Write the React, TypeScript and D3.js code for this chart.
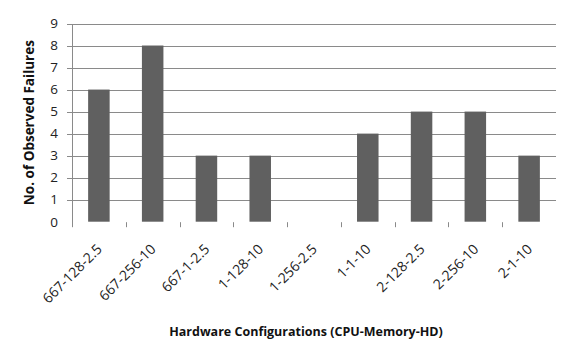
import React from "react";
import * as d3 from "d3";

const categories = ["667-128-2.5", "667-256-10", "667-1-2.5", "1-128-10", "1-256-2.5", "1-1-10", "2-128-2.5", "2-256-10", "2-1-10"];
const failures = [6, 8, 3, 3, 0, 4, 5, 5, 3];
const yTicks = [0, 1, 2, 3, 4, 5, 6, 7, 8, 9];
const yTitle = "No. of Observed Failures";
const xTitle = "Hardware Configurations (CPU-Memory-HD)";

const W = 576, H = 350;
const left = 72, right = 556, top = 23.5, bottom = 221.7;
const font = "'Open Sans', 'DejaVu Sans', sans-serif";

export default function App() {
  const x = d3.scaleBand<string>().domain(categories).range([left, right]).padding(0);
  const y = d3.scaleLinear().domain([0, 9]).range([bottom, top]);
  const bw = x.bandwidth() * 0.4;
  const grid = "#8a8a8a";
  return (
    <svg width={W} height={H} style={{ position: "absolute", left: 0, top: 0, background: "#fff" }}>
      <rect width={W} height={H} fill="#fff" />
      {yTicks.filter(t => t > 0).map(t => (
        <line key={"g" + t} x1={left - 5} x2={right} y1={Math.round(y(t)) + 0.5} y2={Math.round(y(t)) + 0.5} stroke={grid} strokeWidth={1} />
      ))}
      <line x1={left + 0.5} x2={left + 0.5} y1={Math.round(y(9))} y2={bottom + 5.5} stroke={grid} strokeWidth={1} />
      {categories.slice(1).map(c => (
        <line key={"t" + c} x1={Math.round(x(c)!) + 0.5} x2={Math.round(x(c)!) + 0.5} y1={bottom + 0.5} y2={bottom + 5.5} stroke={grid} strokeWidth={1} />
      ))}
      {categories.map((c, i) => (
        failures[i] > 0 ? (
          <rect key={"b" + c} x={x(c)! + (x.bandwidth() - bw) / 2} y={y(failures[i])} width={bw} height={y(0) - y(failures[i])} fill="#606060" />
        ) : null
      ))}
      {yTicks.map(t => (
        <text key={"yl" + t} x={58} y={y(t) + 4.8} textAnchor="end" fontFamily={font} fontSize={13.5} fill="#222">{t}</text>
      ))}
      {categories.map(c => {
        const cx = x(c)! + x.bandwidth() / 2 + 4;
        const cy = 250;
        return (
          <text key={"xl" + c} x={cx} y={cy} textAnchor="end" transform={`rotate(-45 ${cx} ${cy})`} fontFamily={font} fontSize={14} fill="#222">{c}</text>
        );
      })}
      <text x={0} y={0} transform={`translate(34 ${(top + bottom) / 2}) rotate(-90)`} textAnchor="middle" fontFamily={font} fontSize={13.5} fontWeight="bold" fill="#111">{yTitle}</text>
      <text x={306} y={336} textAnchor="middle" fontFamily={font} fontSize={12.5} fontWeight="bold" fill="#111">{xTitle}</text>
    </svg>
  );
}
